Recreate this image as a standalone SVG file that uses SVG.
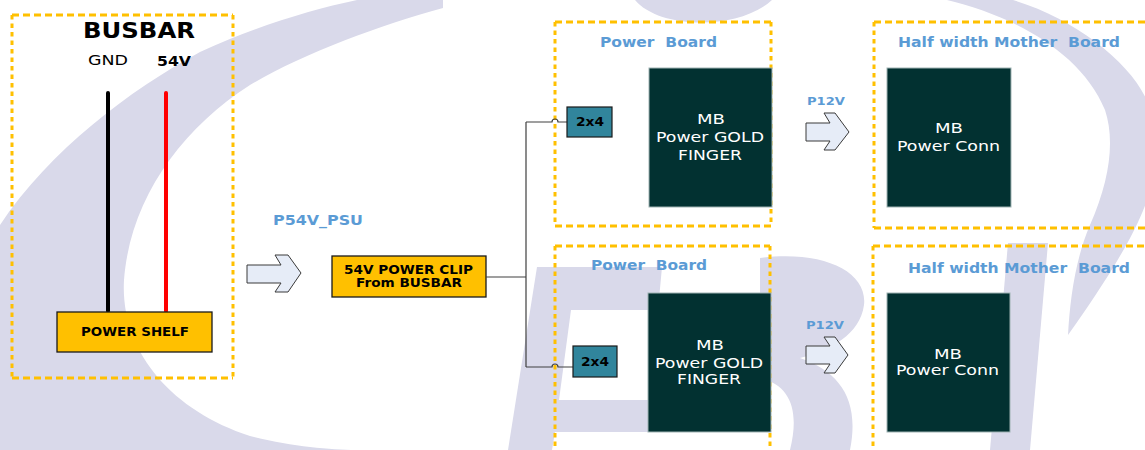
<svg xmlns="http://www.w3.org/2000/svg" width="1145" height="450" viewBox="0 0 1145 450">
<style>
.wm{fill:#d9d9ea}
.h{fill:none;stroke:#ffc000;stroke-width:3;stroke-dasharray:7 4}
.v{fill:none;stroke:#ffc000;stroke-width:3;stroke-dasharray:4.5 4}
.yel{fill:#ffc000;stroke:#1a1a1a;stroke-width:1.3}
.mb{fill:#023131;stroke:#9fb3b3;stroke-width:1}
.conn{fill:#31859c;stroke:#1a1a1a;stroke-width:1.2}
.arr{fill:#e6ecf7;stroke:#3a3a3a;stroke-width:1}
.wire{fill:none;stroke:#404040;stroke-width:1.2}
text{font-family:"DejaVu Sans","Liberation Sans",sans-serif;white-space:pre}
.b{font-weight:bold;fill:#000}
.n{fill:#000}
.blue{fill:#5b9bd5;font-weight:bold}
.wt{fill:#fff}
</style>
<rect width="1145" height="450" fill="#fff"/>
<g id="watermark">
<path class="wm" d="M357,0 H443 V8 C380,25 300,55 250,85 C180,130 130,200 124,280 C120,350 170,410 250,436 C290,446 330,450 356,450 H0 V225 C50,150 130,90 200,52 C260,25 310,10 357,0 Z"/>
<path class="wm" d="M635,0 C660,30 740,30 772,0 Z"/>
<path class="wm" d="M947,0 H1013 C1080,20 1140,70 1150,110 V190 C1140,230 1100,290 1068,335 C1070,300 1075,260 1090,225 C1110,180 1115,140 1105,110 C1080,50 1010,15 947,0 Z"/>
<path class="wm" d="M537,267 H662 L658,310 H571 L559,400 H652 L650,432 H555 L552,450 H508 Z"/>
<path class="wm" d="M760,258 C820,250 868,270 864,305 C860,335 830,350 800,358 C840,372 860,400 850,450 H790 C800,410 790,385 760,378 Z"/>
<path class="wm" d="M1008,243 H1048 L1030,450 H990 Z"/>
</g>
<g id="busbar">
<path class="h" d="M12,15 H233 M12,378 H233"/>
<path class="v" d="M12,15 V378 M233,15 V378"/>
<text class="b" x="83" y="38" font-size="21" textLength="112" lengthAdjust="spacingAndGlyphs">BUSBAR</text>
<text class="n" x="88" y="65" font-size="14.5" textLength="40" lengthAdjust="spacingAndGlyphs">GND</text>
<text class="b" x="157" y="66" font-size="14.5" textLength="34" lengthAdjust="spacingAndGlyphs">54V</text>
<line x1="108" y1="93" x2="108" y2="311" stroke="#000" stroke-width="4" stroke-linecap="round"/>
<line x1="166" y1="93" x2="166" y2="311" stroke="#ff0000" stroke-width="4" stroke-linecap="round"/>
</g>
<g id="power-shelf">
<rect class="yel" x="57" y="312" width="155" height="40"/>
<text class="b" x="81" y="336" font-size="13" textLength="108" lengthAdjust="spacingAndGlyphs">POWER SHELF</text>
</g>
<g id="arrow-psu">
<path class="arr" d="M247,265 H281 L275,255 H288 L301,273 L288,292 H275 L281,283 H247 Z"/>
<text class="blue" x="273" y="225" font-size="14" textLength="90" lengthAdjust="spacingAndGlyphs">P54V_PSU</text>
</g>
<g id="power-clip">
<rect class="yel" x="332" y="256" width="154" height="41"/>
<text class="b" x="344" y="274" font-size="12.5" textLength="129" lengthAdjust="spacingAndGlyphs">54V POWER CLIP</text>
<text class="b" x="356" y="287" font-size="12.5" textLength="106" lengthAdjust="spacingAndGlyphs">From BUSBAR</text>
</g>
<g id="power-board-1">
<path class="h" d="M555,22 H771 M555,226 H771"/>
<path class="v" d="M555,22 V226 M771,22 V226"/>
<text class="blue" x="600" y="47" font-size="14" textLength="117" lengthAdjust="spacingAndGlyphs">Power  Board</text>
</g>
<g id="power-board-2">
<path class="h" d="M555,246 H770"/>
<path class="v" d="M555,246 V460 M770,246 V460"/>
<text class="blue" x="591" y="270" font-size="14" textLength="116" lengthAdjust="spacingAndGlyphs">Power  Board</text>
</g>
<g id="mother-board-1">
<path class="h" d="M874,22 H1160 M874,228 H1160"/>
<path class="v" d="M874,22 V228"/>
<text class="blue" x="898" y="47" font-size="14" textLength="222" lengthAdjust="spacingAndGlyphs">Half width Mother  Board</text>
</g>
<g id="mother-board-2">
<path class="h" d="M873,246 H1160"/>
<path class="v" d="M873,246 V460"/>
<text class="blue" x="908" y="273" font-size="14" textLength="222" lengthAdjust="spacingAndGlyphs">Half width Mother  Board</text>
</g>
<g id="connectors">
<path class="wire" d="M486,277 H526 M526,122 V367"/>
<path class="wire" d="M526,122 H552 A3,3 0 0 1 558,122 H567"/>
<path class="wire" d="M526,367 H552 A3,3 0 0 1 558,367 H573"/>
</g>
<g id="conn-2x4-1">
<rect class="conn" x="567" y="107" width="45" height="30"/>
<text class="b" x="576" y="126" font-size="12" textLength="28" lengthAdjust="spacingAndGlyphs">2x4</text>
</g>
<g id="conn-2x4-2">
<rect class="conn" x="573" y="346" width="44" height="31"/>
<text class="b" x="581" y="366" font-size="12" textLength="28" lengthAdjust="spacingAndGlyphs">2x4</text>
</g>
<g id="gold-finger-1">
<rect class="mb" x="649" y="68" width="123" height="139"/>
<text class="wt" x="697" y="124" font-size="14" textLength="28" lengthAdjust="spacingAndGlyphs">MB</text>
<text class="wt" x="656" y="142" font-size="14" textLength="108" lengthAdjust="spacingAndGlyphs">Power GOLD</text>
<text class="wt" x="678" y="160" font-size="14" textLength="64" lengthAdjust="spacingAndGlyphs">FINGER</text>
</g>
<g id="gold-finger-2">
<rect class="mb" x="648" y="293" width="123" height="139"/>
<text class="wt" x="696" y="350" font-size="14" textLength="28" lengthAdjust="spacingAndGlyphs">MB</text>
<text class="wt" x="655" y="368" font-size="14" textLength="108" lengthAdjust="spacingAndGlyphs">Power GOLD</text>
<text class="wt" x="677" y="384" font-size="14" textLength="64" lengthAdjust="spacingAndGlyphs">FINGER</text>
</g>
<g id="arrow-p12v-1">
<path class="arr" d="M806,123 H830 L824,113 H835 L849,132 L835,150 H824 L830,141 H806 Z"/>
<text class="blue" x="807" y="105" font-size="11" textLength="38" lengthAdjust="spacingAndGlyphs">P12V</text>
</g>
<g id="arrow-p12v-2">
<path class="arr" d="M806,346 H830 L824,337 H835 L848,355 L835,373 H824 L830,364 H806 Z"/>
<text class="blue" x="806" y="329" font-size="11" textLength="38" lengthAdjust="spacingAndGlyphs">P12V</text>
</g>
<g id="power-conn-1">
<rect class="mb" x="887" y="68" width="124" height="139"/>
<text class="wt" x="935" y="133" font-size="14" textLength="28" lengthAdjust="spacingAndGlyphs">MB</text>
<text class="wt" x="897" y="151" font-size="14" textLength="103" lengthAdjust="spacingAndGlyphs">Power Conn</text>
</g>
<g id="power-conn-2">
<rect class="mb" x="887" y="293" width="123" height="139"/>
<text class="wt" x="934" y="359" font-size="14" textLength="28" lengthAdjust="spacingAndGlyphs">MB</text>
<text class="wt" x="896" y="375" font-size="14" textLength="103" lengthAdjust="spacingAndGlyphs">Power Conn</text>
</g>
</svg>
